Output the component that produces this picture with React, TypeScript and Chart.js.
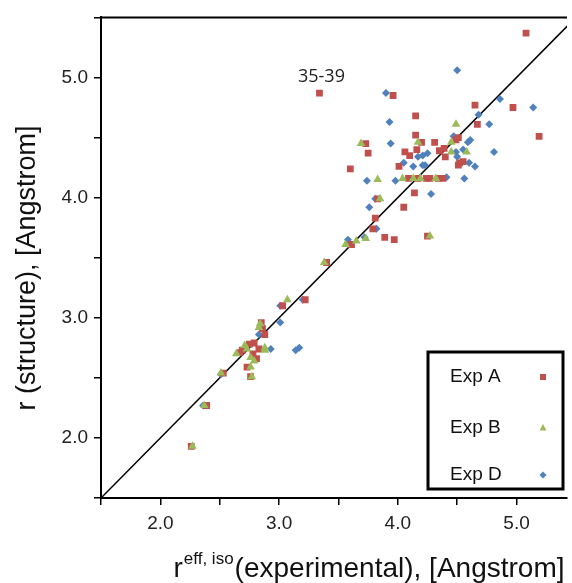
import React, { useEffect, useRef } from 'react';
import { Chart, registerables } from 'chart.js';

Chart.register(...registerables);

// ---- Data ----
const expA_x = [3.34, 3.96, 4.65, 4.97, 4.15, 4.67, 5.19, 4.15, 4.20, 3.73, 4.31, 3.75, 4.06, 4.10, 4.16, 4.35, 4.39, 4.40, 4.49, 4.51, 3.60, 4.01, 4.51, 4.52, 4.55, 4.09, 4.17, 4.24, 4.27, 4.34, 4.38, 4.14, 4.05, 3.81, 3.79, 3.89, 3.97, 4.25, 3.61, 3.40, 3.83, 5.08, 3.22, 3.03, 2.85, 2.86, 2.88, 2.79, 2.75, 2.69, 2.67, 2.83, 2.78, 2.81, 2.73, 2.76, 2.53, 2.39, 2.26];
const expA_y = [4.87, 4.85, 4.77, 4.75, 4.68, 4.61, 4.51, 4.52, 4.46, 4.45, 4.46, 4.37, 4.38, 4.35, 4.40, 4.39, 4.41, 4.34, 4.48, 4.50, 4.24, 4.26, 4.27, 4.29, 4.30, 4.16, 4.16, 4.16, 4.16, 4.16, 4.16, 4.04, 3.92, 3.83, 3.74, 3.67, 3.65, 3.68, 3.61, 3.46, 3.99, 5.37, 3.15, 3.10, 2.96, 2.91, 2.86, 2.79, 2.78, 2.73, 2.71, 2.74, 2.70, 2.66, 2.59, 2.51, 2.54, 2.27, 1.93];

const expB_x = [4.49, 3.69, 4.17, 4.45, 4.45, 4.58, 3.83, 4.04, 4.13, 4.19, 4.32, 3.85, 3.73, 3.65, 3.56, 4.27, 3.38, 3.07, 2.84, 2.83, 2.71, 2.73, 2.64, 2.88, 2.88, 2.76, 2.79, 2.76, 2.77, 2.51, 2.37, 2.27];
const expB_y = [4.61, 4.45, 4.46, 4.46, 4.38, 4.38, 4.15, 4.16, 4.16, 4.16, 4.16, 3.99, 3.66, 3.64, 3.61, 3.68, 3.46, 3.15, 2.95, 2.92, 2.77, 2.74, 2.70, 2.75, 2.73, 2.67, 2.64, 2.59, 2.51, 2.54, 2.27, 1.93];

const expD_x = [3.90, 4.86, 5.14, 4.68, 3.93, 4.77, 4.47, 4.59, 4.61, 3.94, 4.55, 4.81, 4.49, 4.50, 4.17, 4.21, 4.25, 4.05, 4.13, 4.21, 4.23, 4.60, 4.65, 3.74, 3.98, 4.41, 4.56, 4.28, 3.76, 3.81, 3.82, 3.58, 3.72, 4.50, 3.20, 3.01, 3.01, 2.83, 2.93, 3.14, 3.17, 2.51, 2.36];
const expD_y = [4.87, 4.82, 4.75, 4.69, 4.63, 4.61, 4.51, 4.46, 4.48, 4.45, 4.40, 4.38, 4.38, 4.34, 4.34, 4.35, 4.37, 4.29, 4.26, 4.27, 4.27, 4.29, 4.26, 4.14, 4.14, 4.17, 4.16, 4.03, 3.92, 3.99, 3.74, 3.65, 3.67, 5.06, 3.15, 3.10, 2.96, 2.86, 2.74, 2.73, 2.75, 2.53, 2.27];

const diagonal = [1.5, 5.5];

const seriesNames = ['Exp A', 'Exp B', 'Exp D'];
const seriesColors = ['#C0504D', '#9BBB59', '#4F81BD'];

const annotationText = '35-39';
const annotationPoint = { x: 3.34, y: 4.87 };

const xTitleMain = 'r';
const xTitleSup = 'eff, iso';
const xTitleRest = '(experimental), [Angstrom]';
const yTitle = 'r (structure), [Angstrom]';

const X_MIN = 1.5;
const X_MAX = 5.425;
const Y_MIN = 1.5;
const Y_MAX = 5.5;

const zip = (xs: number[], ys: number[]) => xs.map((x, i) => ({ x, y: ys[i] }));

const FONT = '"Liberation Sans", Arial, sans-serif';

const overlayPlugin = {
  id: 'overlay',
  afterDraw(chart: any) {
    const { ctx, chartArea: ca, scales } = chart;
    ctx.save();
    // top border
    ctx.strokeStyle = '#000';
    ctx.lineWidth = 2;
    ctx.beginPath();
    ctx.moveTo(ca.left - 1, ca.top);
    ctx.lineTo(ca.right, ca.top);
    ctx.stroke();

    // annotation
    const ax = scales.x.getPixelForValue(annotationPoint.x);
    const ay = scales.y.getPixelForValue(annotationPoint.y);
    ctx.fillStyle = '#222';
    ctx.font = '18px "Open Sans", sans-serif';
    ctx.textAlign = 'center';
    ctx.textBaseline = 'middle';
    ctx.fillText(annotationText, ax + 2, ay - 16);

    // legend box
    const bw = 135, bh = 137;
    const bx = ca.right - 4 - bw;
    const by = ca.bottom - 9 - bh;
    ctx.lineWidth = 3;
    ctx.strokeStyle = '#000';
    ctx.fillStyle = '#fff';
    ctx.fillRect(bx, by, bw, bh);
    ctx.strokeRect(bx, by, bw, bh);
    const rowY = [by + 25, by + 76, by + 123];
    ctx.font = `19px ${FONT}`;
    ctx.textAlign = 'left';
    ctx.textBaseline = 'middle';
    seriesNames.forEach((name, i) => {
      ctx.fillStyle = '#111';
      ctx.fillText(name, bx + 22, rowY[i]);
      const mx = bx + 115, my = rowY[i];
      ctx.fillStyle = seriesColors[i];
      ctx.beginPath();
      if (i === 0) {
        ctx.rect(mx - 3, my - 3, 6, 6);
      } else if (i === 1) {
        ctx.moveTo(mx, my - 4);
        ctx.lineTo(mx + 3.5, my + 2.5);
        ctx.lineTo(mx - 3.5, my + 2.5);
        ctx.closePath();
      } else {
        ctx.moveTo(mx, my - 3.5);
        ctx.lineTo(mx + 3.5, my);
        ctx.lineTo(mx, my + 3.5);
        ctx.lineTo(mx - 3.5, my);
        ctx.closePath();
      }
      ctx.fill();
    });

    // x axis title
    ctx.fillStyle = '#111';
    ctx.textAlign = 'left';
    ctx.textBaseline = 'alphabetic';
    const bigFont = `28px ${FONT}`;
    const supFont = `17px ${FONT}`;
    ctx.font = bigFont;
    const w1 = ctx.measureText(xTitleMain).width;
    const w3 = ctx.measureText(xTitleRest).width;
    ctx.font = supFont;
    const w2 = ctx.measureText(xTitleSup).width;
    const total = w1 + w2 + w3 + 2;
    const cx = ca.left + 268;
    let tx = cx - total / 2;
    const baseY = 577;
    ctx.font = bigFont;
    ctx.fillText(xTitleMain, tx, baseY);
    tx += w1 + 1;
    ctx.font = supFont;
    ctx.fillText(xTitleSup, tx, baseY - 13);
    tx += w2 + 1;
    ctx.font = bigFont;
    ctx.fillText(xTitleRest, tx, baseY);

    // y axis title
    ctx.save();
    ctx.translate(28, 268);
    ctx.rotate(-Math.PI / 2);
    ctx.font = `27px ${FONT}`;
    ctx.textAlign = 'center';
    ctx.textBaseline = 'middle';
    ctx.fillText(yTitle, 0, 0);
    ctx.restore();

    ctx.restore();
  },
};

const tickLabel = (v: any) => {
  const n = Number(v);
  return Math.abs(n - Math.round(n)) < 1e-6 ? n.toFixed(1) : '';
};

export default function App() {
  const canvasRef = useRef<HTMLCanvasElement | null>(null);

  useEffect(() => {
    document.body.style.margin = '0';
    const canvas = canvasRef.current;
    if (!canvas) return;
    const chart = new Chart(canvas, {
      type: 'scatter',
      data: {
        datasets: [
          {
            label: seriesNames[1],
            data: zip(expB_x, expB_y),
            backgroundColor: seriesColors[1],
            borderWidth: 0,
            pointStyle: 'triangle',
            pointRadius: 5,
          },
          {
            label: seriesNames[0],
            data: zip(expA_x, expA_y),
            backgroundColor: seriesColors[0],
            borderWidth: 0,
            pointStyle: 'rect',
            pointRadius: 4.8,
          },
          {
            label: seriesNames[2],
            data: zip(expD_x, expD_y),
            backgroundColor: seriesColors[2],
            borderWidth: 0,
            pointStyle: 'rectRot',
            pointRadius: 4,
          },
          {
            label: 'y = x',
            data: zip(diagonal, diagonal),
            showLine: true,
            borderColor: '#000',
            borderWidth: 1.5,
            pointRadius: 0,
            backgroundColor: '#000',
          },
        ],
      },
      options: {
        animation: false,
        responsive: false,
        devicePixelRatio: 1,
        events: [],
        layout: { padding: { top: 15, right: 0, left: 0, bottom: 0 } },
        plugins: {
          legend: { display: false },
          tooltip: { enabled: false },
        },
        scales: {
          x: {
            type: 'linear',
            min: X_MIN,
            max: X_MAX,
            afterFit: (s: any) => { s.height = 85; },
            border: { display: true, color: '#000', width: 2 },
            grid: { display: true, drawOnChartArea: false, drawTicks: true, tickLength: 7, color: '#000', lineWidth: 1.5 },
            ticks: {
              stepSize: 0.5,
              includeBounds: false,
              autoSkip: false,
              maxRotation: 0,
              padding: 7,
              color: '#222',
              font: { family: FONT, size: 19 },
              callback: tickLabel,
            },
          },
          y: {
            type: 'linear',
            min: Y_MIN,
            max: Y_MAX,
            afterFit: (s: any) => { s.width = 101; },
            border: { display: true, color: '#000', width: 2 },
            grid: { display: true, drawOnChartArea: false, drawTicks: true, tickLength: 7, color: '#000', lineWidth: 1.5 },
            ticks: {
              stepSize: 0.5,
              includeBounds: false,
              autoSkip: false,
              padding: 6,
              color: '#222',
              font: { family: FONT, size: 19 },
              callback: tickLabel,
            },
          },
        },
      },
      plugins: [overlayPlugin],
    } as any);
    return () => chart.destroy();
  }, []);

  return (
    <div style={{ width: 572, height: 583, background: '#fff' }}>
      <canvas ref={canvasRef} width={572} height={583} style={{ display: 'block', width: 572, height: 583 }} />
    </div>
  );
}
